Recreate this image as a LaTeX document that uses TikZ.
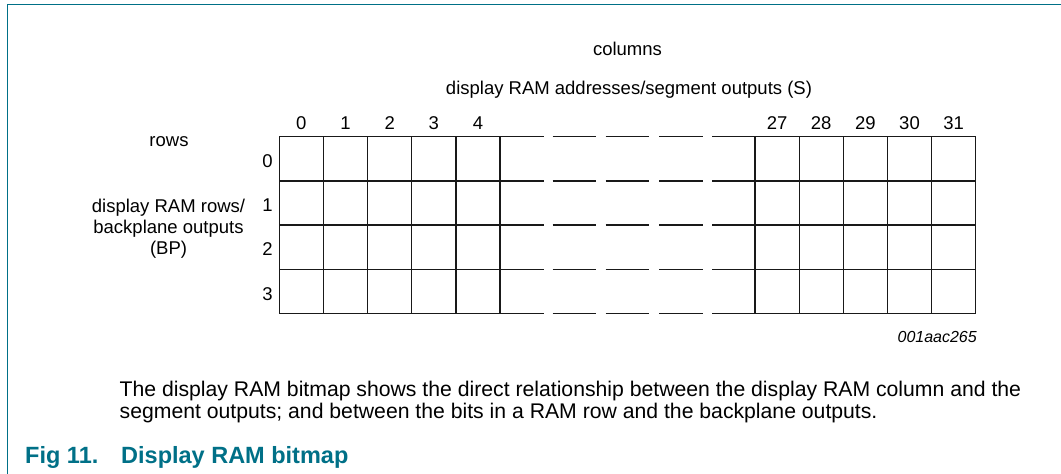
\documentclass[tikz,border=0pt]{standalone}
\usepackage{fontspec}
\setmainfont{Liberation Sans}
\definecolor{nxpteal}{RGB}{0,112,135}
\begin{document}
\begin{tikzpicture}[x=1pt,y=-1pt,
  lbl/.style={inner sep=0pt, font=\fontsize{18.5}{21}\selectfont},
  captxt/.style={inner sep=0pt, anchor=base west, font=\fontsize{21.2}{22}\selectfont},
  figtxt/.style={inner sep=0pt, anchor=base west, text=nxpteal, font=\fontsize{23.5}{25}\selectfont\bfseries},
  gridline/.style={line width=1.3pt, black!90, line cap=square},
  frameline/.style={nxpteal, line width=1.5pt},
]
\useasboundingbox (0,0) rectangle (1061,474);
% frame
\draw[frameline] (1061,4.3) -- (7.3,4.3) -- (7.3,474);
% horizontal grid lines (with broken middle part)
\foreach \r in {0,...,4}{
  \pgfmathsetmacro\yy{136.7+44.15*\r}
  \draw[gridline] (279.3,\yy) -- (544,\yy)
                  (552.7,\yy) -- (596,\yy)
                  (605.7,\yy) -- (649.3,\yy)
                  (659,\yy) -- (702.7,\yy)
                  (712,\yy) -- (975.75,\yy);
}
% vertical grid lines
\foreach \c in {0,...,5}{
  \pgfmathsetmacro\xa{279.3+44.15*\c}
  \pgfmathsetmacro\xb{755+44.15*\c}
  \draw[gridline] (\xa,136.7) -- (\xa,313.3);
  \draw[gridline] (\xb,136.7) -- (\xb,313.3);
}
% column labels
\foreach \i in {0,...,4}{
  \node[lbl, anchor=base] (cl\i) at (301.37+44.15*\i,129.8) {\i};
}
\foreach \j/\t in {0/27,1/28,2/29,3/30,4/31}{
  \node[lbl, anchor=base] (cr\j) at (777.07+44.15*\j,129.8) {\t};
}
% row labels
\foreach \r in {0,...,3}{
  \node[lbl, anchor=base] (rl\r) at (267.5,167.6+44.15*\r) {\r};
}
% headings
\node[lbl, anchor=base] (columns) at (627.5,55.5) {columns};
\node[lbl, anchor=base] (segout) at (629,94.5) {display RAM addresses/segment outputs (S)};
\node[lbl, anchor=base] (rows) at (169,146) {rows};
\node[lbl, anchor=base] (bp1) at (168.5,212.5) {display RAM rows/};
\node[lbl, anchor=base] (bp2) at (168.5,233.5) {backplane outputs};
\node[lbl, anchor=base] (bp3) at (168.5,254.3) {(BP)};
% figure id
\node[inner sep=0pt, anchor=base east, font=\fontsize{16}{18}\selectfont\itshape] (figid) at (977,342) {001aac265};
% caption
\node[captxt] (cap1) at (119.5,396) {The display RAM bitmap shows the direct relationship between the display RAM column and the};
\node[captxt] (cap2) at (119.5,418) {segment outputs; and between the bits in a RAM row and the backplane outputs.};
\node[figtxt] (fignum) at (25,463.3) {Fig 11.};
\node[figtxt] (figtitle) at (121,463.3) {Display RAM bitmap};
\end{tikzpicture}
\end{document}
